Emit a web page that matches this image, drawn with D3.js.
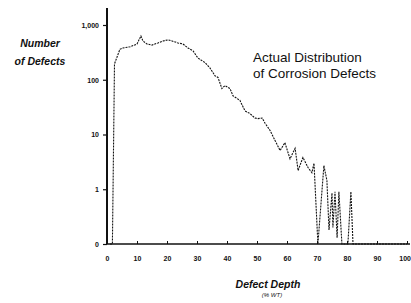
<!DOCTYPE html>
<html>
<head>
<meta charset="utf-8">
<script src="https://cdn.jsdelivr.net/npm/d3@7"></script>
<style>
  body { margin: 0; background: #fff; }
  svg { display: block; }
  text { font-family: "Liberation Sans", Arial, sans-serif; fill: #111; }
</style>
</head>
<body>
<svg id="chart"></svg>
<script>
// defect depth (% WT) and number of defects; 0.1 stands for zero
const depth = [1.0, 1.8, 2.5, 4.3, 5.3, 7.7, 10, 11.3, 12, 13.3, 15, 17, 18.7, 20.3, 21.7, 23.7, 25.3, 27, 28.7,
  30.3, 32.7, 34.3, 36, 37, 38.3, 39.3, 41, 42, 44.3, 46, 47.7, 49.3, 50.3, 51.7, 52.7, 54.3, 56, 57.7, 59.3,
  61, 62.7, 63.7, 65.3, 67, 68.3, 69, 70.3, 72.3, 73.3, 74, 75, 75.3, 76, 76.7, 77.3, 78.3, 80.3, 81.3, 82, 100];
const defects = [0.1, 0.1, 195, 360, 380, 400, 450, 630, 510, 450, 430, 470, 510, 535, 510, 470, 450, 380, 335,
  250, 205, 165, 118, 110, 69, 78, 69, 51, 42, 27, 24, 20, 19.5, 20, 16, 12, 7.8, 5.1, 7.1,
  3.6, 5.6, 2.2, 3.8, 2.5, 2.0, 3.0, 0.1, 2.7, 1.45, 0.18, 0.85, 0.2, 0.9, 0.13, 0.9, 0.1, 0.1, 0.9, 0.1, 0.1];

const xTicks = [0, 10, 20, 30, 40, 50, 60, 70, 80, 90, 100];
const yTicks = [0.1, 1, 10, 100, 1000];
const yTickLabels = ["0", "1", "10", "100", "1,000"];

const W = 411, H = 303;
const svg = d3.select("#chart").attr("width", W).attr("height", H);

const x = d3.scaleLinear().domain([0, 100]).range([107, 407]);
const y = d3.scaleLog().domain([0.1, 1000]).range([244, 25]);

// y axis
const yAxis = d3.axisLeft(y)
  .tickValues(yTicks)
  .tickFormat((d, i) => yTickLabels[i])
  .tickSize(4)
  .tickPadding(4);
const gy = svg.append("g").attr("transform", `translate(${x(0)},0)`).call(yAxis);
gy.select(".domain").remove();
gy.selectAll("text").style("font-size", "7px").style("font-weight", "bold");
gy.selectAll("line").attr("stroke", "#111").attr("stroke-width", 1.2);
svg.append("line")
  .attr("x1", x(0)).attr("x2", x(0))
  .attr("y1", 8).attr("y2", y(0.1))
  .attr("stroke", "#111").attr("stroke-width", 2);

// x axis
const xAxis = d3.axisTop(x)
  .tickValues(xTicks)
  .tickSize(3)
  .tickFormat(d3.format("d"));
const gx = svg.append("g").attr("transform", `translate(0,${y(0.1)})`).call(xAxis);
gx.select(".domain").remove();
gx.selectAll("line").attr("stroke", "#111").attr("stroke-width", 1);
gx.selectAll("text").attr("y", 17).style("font-size", "7px").style("font-weight", "bold");
gx.selectAll("text").filter(d => d === 100).attr("text-anchor", "end").attr("dx", 3.5);
svg.append("line")
  .attr("x1", x(0)).attr("x2", 410)
  .attr("y1", y(0.1)).attr("y2", y(0.1))
  .attr("stroke", "#111").attr("stroke-width", 1.6);

// distribution curve
const line = d3.line()
  .x((d, i) => x(depth[i]))
  .y(d => y(d));
svg.append("path")
  .datum(defects)
  .attr("d", line)
  .attr("fill", "none")
  .attr("stroke", "#111")
  .attr("stroke-width", 1.1)
  .attr("stroke-dasharray", "2,1");

// labels
svg.append("text").attr("x", 40).attr("y", 47).attr("text-anchor", "middle")
  .style("font-size", "10.5px").style("font-weight", "bold").style("font-style", "italic")
  .text("Number");
svg.append("text").attr("x", 40).attr("y", 65).attr("text-anchor", "middle")
  .style("font-size", "10.5px").style("font-weight", "bold").style("font-style", "italic")
  .text("of Defects");

svg.append("text").attr("x", 253).attr("y", 62)
  .style("font-size", "13.5px")
  .text("Actual Distribution");
svg.append("text").attr("x", 253).attr("y", 78)
  .style("font-size", "13.5px")
  .text("of Corrosion Defects");

svg.append("text").attr("x", 268).attr("y", 288).attr("text-anchor", "middle")
  .style("font-size", "10.5px").style("font-weight", "bold").style("font-style", "italic")
  .text("Defect Depth");
svg.append("text").attr("x", 272).attr("y", 297).attr("text-anchor", "middle")
  .style("font-size", "6px").style("font-style", "italic")
  .text("(% WT)");
</script>
</body>
</html>
